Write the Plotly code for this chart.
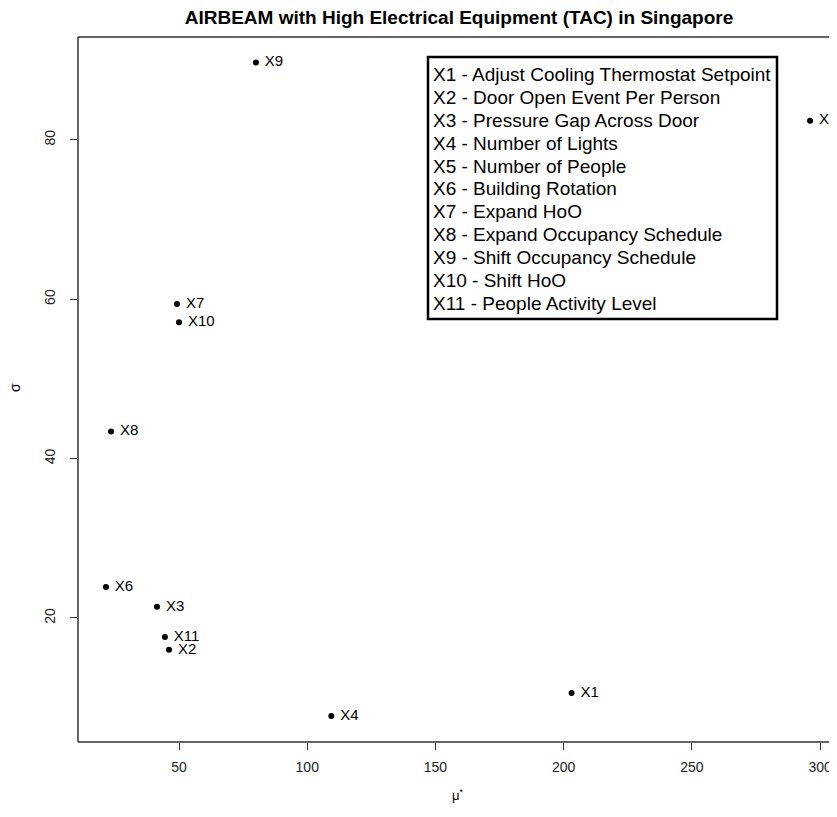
import plotly.graph_objects as go

labels = ["X1", "X2", "X3", "X4", "X5", "X6", "X7", "X8", "X9", "X10", "X11"]
mu_star = [203.1, 46.1, 41.4, 109.4, 296.1, 21.5, 49.2, 23.5, 80.0, 50.0, 44.5]
sigma = [10.6, 16.0, 21.4, 7.7, 82.4, 23.9, 59.4, 43.4, 89.7, 57.1, 17.6]
descriptions = [
    "Adjust Cooling Thermostat Setpoint",
    "Door Open Event Per Person",
    "Pressure Gap Across Door",
    "Number of Lights",
    "Number of People",
    "Building Rotation",
    "Expand HoO",
    "Expand Occupancy Schedule",
    "Shift Occupancy Schedule",
    "Shift HoO",
    "People Activity Level",
]
x_ticks = [50, 100, 150, 200, 250, 300]
y_ticks = [20, 40, 60, 80]

FONT = "Liberation Sans, Arial, Helvetica, sans-serif"
W, H = 837, 817
L, R, T, B = 70, 7, 29, 83
PW, PH = W - L - R, H - T - B


def px(fx):
    return (fx - L) / PW


def py(fy):
    return 1 - (fy - T) / PH


fig = go.Figure()
fig.add_trace(go.Scatter(
    x=mu_star, y=sigma, mode="markers+text",
    text=[" " + l for l in labels], textposition="middle right",
    textfont=dict(family=FONT, size=15, color="black"),
    marker=dict(color="black", size=6),
    cliponaxis=False, showlegend=False, hoverinfo="skip",
))

# legend box
fig.add_shape(type="rect", xref="paper", yref="paper",
              x0=px(420), x1=px(769), y0=py(311), y1=py(49),
              line=dict(color="black", width=2.5), fillcolor="white", layer="above")
for i, (l, d) in enumerate(zip(labels, descriptions)):
    fig.add_annotation(
        xref="paper", yref="paper", x=px(423), y=py(67 + 22.8 * i),
        xanchor="left", yanchor="middle", text=f"{l} - {d}", align="left",
        showarrow=False, font=dict(family=FONT, size=19, color="black"),
    )

line = dict(color="#333333", width=1.5)
fig.add_shape(type="line", xref="paper", yref="paper", x0=0, x1=0, y0=0, y1=1, line=line)
fig.add_shape(type="line", xref="paper", yref="paper", x0=0, x1=1, y0=0, y1=0, line=line)
fig.add_shape(type="line", xref="paper", yref="paper", x0=0, x1=1, y0=1, y1=1, line=line)
fig.add_shape(type="line", xref="paper", yref="paper", x0=1, x1=1, y0=0, y1=1, line=line)

# axis titles
fig.add_annotation(xref="paper", yref="paper", x=px(450), y=py(787),
                   text="μ<sup>*</sup>", showarrow=False, xanchor="center", yanchor="middle",
                   font=dict(family=FONT, size=13, color="black"))
fig.add_annotation(xref="paper", yref="paper", x=px(7), y=py(380),
                   text="σ", showarrow=False, textangle=-90, xanchor="center", yanchor="middle",
                   font=dict(family=FONT, size=14, color="black"))

fig.update_layout(
    width=W, height=H,
    margin=dict(l=L, r=R, t=T, b=B),
    paper_bgcolor="white", plot_bgcolor="white",
    font=dict(family=FONT, color="black"),
    title=dict(text="<b>AIRBEAM with High Electrical Equipment (TAC) in Singapore</b>",
               x=451 / W, xanchor="center", y=1 - 9 / H, yanchor="middle",
               font=dict(family=FONT, size=19, color="black")),
    xaxis=dict(range=[10.6, 307.0], tickvals=x_ticks, ticks="outside", ticklen=7,
               tickcolor="#333333", showgrid=False, zeroline=False, showline=False,
               ticklabelstandoff=5,
               tickfont=dict(size=14, color="#222222")),
    yaxis=dict(range=[4.44, 92.9], tickvals=y_ticks, ticks="outside", ticklen=7,
               tickcolor="#333333", showgrid=False, zeroline=False, showline=False,
               tickangle=-90, ticklabelstandoff=9,
               tickfont=dict(size=14, color="#222222")),
)

fig.write_html("out.html")
